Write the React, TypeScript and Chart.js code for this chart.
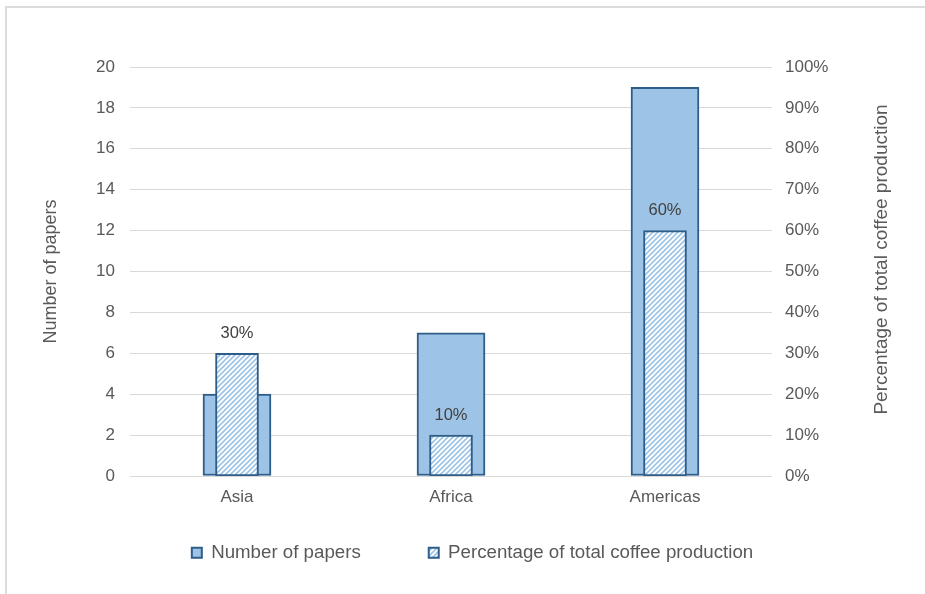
import React, { useEffect, useRef } from "react";
import { Chart, registerables } from "chart.js";

Chart.register(...registerables);

const categories = ["Asia", "Africa", "Americas"];
const paperCounts = [4, 7, 19];
const productionShare = [30, 10, 60];
const seriesNames = ["Number of papers", "Percentage of total coffee production"];
const leftTitle = "Number of papers";
const rightTitle = "Percentage of total coffee production";

const FONT = "'Liberation Sans', Arial, sans-serif";
const LIGHT_BLUE = "#9dc3e6";
const DARK_BLUE = "#2f5d8a";
const TEXT = "#595959";

function makeHatch(): CanvasPattern | string {
  const c = document.createElement("canvas");
  const s = 5;
  c.width = s;
  c.height = s;
  const g = c.getContext("2d");
  if (!g) return LIGHT_BLUE;
  g.fillStyle = "#ffffff";
  g.fillRect(0, 0, s, s);
  g.strokeStyle = LIGHT_BLUE;
  g.lineWidth = 1.6;
  g.beginPath();
  g.moveTo(-1, s + 1);
  g.lineTo(s + 1, -1);
  g.moveTo(-1, 1);
  g.lineTo(1, -1);
  g.moveTo(s - 1, s + 1);
  g.lineTo(s + 1, s - 1);
  g.stroke();
  const p = g.createPattern(c, "repeat");
  return p || LIGHT_BLUE;
}

const labelPlugin = {
  id: "pctLabels",
  afterDatasetsDraw(chart: any) {
    const meta = chart.getDatasetMeta(1);
    const ctx = chart.ctx;
    ctx.save();
    ctx.font = `16.5px ${FONT}`;
    ctx.fillStyle = "#404040";
    ctx.textAlign = "center";
    ctx.textBaseline = "middle";
    meta.data.forEach((bar: any, i: number) => {
      ctx.fillText(productionShare[i] + "%", bar.x, bar.y - 20);
    });
    ctx.restore();
  },
};

const rightTitlePlugin = {
  id: "rightTitle",
  afterDraw(chart: any) {
    const sc = chart.scales.y1;
    const ctx = chart.ctx;
    ctx.save();
    ctx.font = `19px ${FONT}`;
    ctx.fillStyle = TEXT;
    ctx.textAlign = "center";
    ctx.textBaseline = "middle";
    ctx.translate(sc.right - 43, (chart.chartArea.top + chart.chartArea.bottom) / 2 - 12);
    ctx.rotate(-Math.PI / 2);
    ctx.fillText(rightTitle, 0, 0);
    ctx.restore();
  },
};

const legendFix = {
  id: "legendFix",
  beforeLayout(chart: any) {
    const l = chart.legend;
    if (l && !l._fitPatched) {
      const orig = l.fit;
      l.fit = function (this: any) {
        orig.call(this);
        if (this.isHorizontal()) this.height = 80;
      };
      l._fitPatched = true;
    }
  },
  afterLayout(chart: any) {
    const l = chart.legend;
    if (!l) return;
    const pad = l.options.labels.padding;
    l.top = chart.height - 41 - pad - 9.5;
    l.bottom = chart.height;
    l.height = l.bottom - l.top;
    l.left += 10;
    l.right += 10;
  },
};

export default function App() {
  const ref = useRef<HTMLCanvasElement | null>(null);
  useEffect(() => {
    if (!ref.current) return;
    const hatch = makeHatch();
    const chart = new Chart(ref.current, {
      type: "bar",
      data: {
        labels: categories,
        datasets: [
          {
            label: seriesNames[0],
            data: paperCounts,
            backgroundColor: LIGHT_BLUE,
            borderColor: DARK_BLUE,
            borderWidth: 2,
            borderSkipped: false,
            barThickness: 68,
            grouped: false,
            yAxisID: "y",
            order: 1,
          },
          {
            label: seriesNames[1],
            data: productionShare,
            backgroundColor: hatch as any,
            borderColor: DARK_BLUE,
            borderWidth: 2,
            borderSkipped: false,
            barThickness: 43,
            grouped: false,
            yAxisID: "y1",
            order: 0,
          },
        ],
      },
      options: {
        animation: false,
        responsive: false,
        layout: { padding: { left: 0, right: 0, top: 67, bottom: 0 } },
        plugins: {
          tooltip: { enabled: false },
          legend: {
            position: "bottom",
            labels: {
              boxWidth: 10,
              boxHeight: 10,
              padding: 68,
              color: TEXT,
              font: { family: FONT, size: 18.7 },
              sort: (a: any, b: any) => a.datasetIndex - b.datasetIndex,
            },
          },
        },
        scales: {
          x: {
            offset: true,
            grid: { display: false },
            border: { display: false },
            ticks: { color: TEXT, font: { family: FONT, size: 17 }, padding: 3 },
            afterFit: (s: any) => {
              s.height = 38;
            },
          },
          y: {
            position: "left",
            min: 0,
            max: 20,
            ticks: { stepSize: 2, color: TEXT, font: { family: FONT, size: 17 }, padding: 15 },
            grid: { color: "#d9d9d9", lineWidth: 1, drawTicks: false },
            border: { display: false },
            title: {
              display: true,
              text: leftTitle,
              color: TEXT,
              font: { family: FONT, size: 18 },
              padding: { top: 40, bottom: 0 },
            },
            afterFit: (s: any) => {
              s.width = 130;
            },
          },
          y1: {
            position: "right",
            min: 0,
            max: 100,
            ticks: {
              stepSize: 10,
              color: TEXT,
              font: { family: FONT, size: 17 },
              padding: 13,
              callback: (v: any) => v + "%",
            },
            grid: { display: false, drawTicks: false },
            border: { display: false },
            afterFit: (s: any) => {
              s.width = 153;
            },
          },
        },
      },
      plugins: [labelPlugin, rightTitlePlugin, legendFix],
    });
    return () => chart.destroy();
  }, []);

  return (
    <div
      style={{
        position: "fixed",
        left: 0,
        top: 0,
        width: 925,
        height: 594,
        background: "#ffffff",
        overflow: "hidden",
      }}
    >
      <div
        style={{
          position: "absolute",
          left: 5,
          top: 6,
          width: 1000,
          height: 1000,
          border: "2px solid #dcdcdc",
          boxSizing: "border-box",
        }}
      />
      <canvas
        ref={ref}
        width={925}
        height={594}
        style={{ position: "absolute", left: 0, top: 0, width: 925, height: 594 }}
      />
    </div>
  );
}
